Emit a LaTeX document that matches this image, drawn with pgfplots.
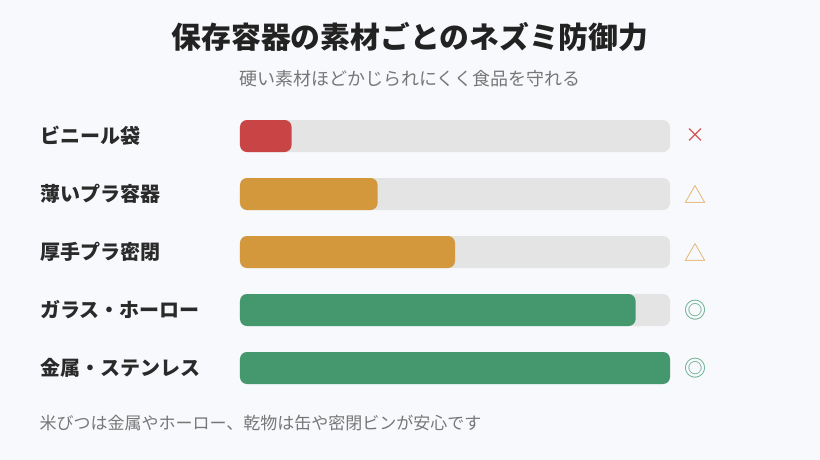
\documentclass[border=0pt]{standalone}
\usepackage{pgfplots}
\pgfplotsset{compat=1.18}
\usepackage{fontspec}
\setmainfont{Noto Sans CJK JP}
\definecolor{bg}{HTML}{F8F9FC}
\definecolor{track}{HTML}{E4E4E4}
\definecolor{cred}{HTML}{C94545}
\definecolor{corange}{HTML}{D4983C}
\definecolor{cgreen}{HTML}{45976D}
\definecolor{sred}{HTML}{D05050}
\definecolor{sorange}{HTML}{E0AA60}
\definecolor{sgreen}{HTML}{5AA880}
\definecolor{titlec}{HTML}{222222}
\definecolor{labelc}{HTML}{2A2A2A}
\definecolor{subc}{HTML}{777777}
\begin{document}
\begin{tikzpicture}
\fill[bg] (0pt,0pt) rectangle (820pt,460pt);
\node[font=\fontsize{29.8}{32}\selectfont\bfseries, text=titlec] at (410pt,423pt) {保存容器の素材ごとのネズミ防御力};
\node[font=\fontsize{18}{20}\selectfont, text=subc] at (410pt,381pt) {硬い素材ほどかじられにくく食品を守れる};
\node[font=\fontsize{17}{19}\selectfont, text=subc, anchor=west] at (36pt,37pt) {米びつは金属やホーロー、乾物は缶や密閉ビンが安心です};
\begin{axis}[
  at={(240pt,63pt)}, anchor=south west,
  scale only axis, width=430pt, height=290pt,
  xmin=0, xmax=100, ymin=-0.5, ymax=4.5,
  y dir=reverse, clip=false,
  axis line style={draw=none}, tick style={draw=none},
  xtick=\empty, ytick={0,1,2,3,4},
  yticklabels={ビニール袋,薄いプラ容器,厚手プラ密閉,ガラス・ホーロー,金属・ステンレス},
  yticklabel style={anchor=west, xshift=-199pt, font=\fontsize{20}{22}\selectfont\bfseries, text=labelc},
  xbar, bar width=32pt, bar shift=0pt,
]
\addplot[fill=track, draw=none, rounded corners=7pt] coordinates {(100,0) (100,1) (100,2) (100,3) (100,4)};
\addplot[fill=cred, draw=none, rounded corners=7pt] coordinates {(12,0)};
\addplot[fill=corange, draw=none, rounded corners=7pt] coordinates {(32,1) (50,2)};
\addplot[fill=cgreen, draw=none, rounded corners=7pt] coordinates {(92,3) (100,4)};
\node[text=sred, font=\fontsize{20}{20}\selectfont] at (axis cs:106,0) {×};
\node[text=sorange, font=\fontsize{22}{22}\selectfont] at (axis cs:106,1) {△};
\node[text=sorange, font=\fontsize{22}{22}\selectfont] at (axis cs:106,2) {△};
\node[text=sgreen, font=\fontsize{22}{22}\selectfont] at (axis cs:106,3) {◎};
\node[text=sgreen, font=\fontsize{22}{22}\selectfont] at (axis cs:106,4) {◎};
\end{axis}
\end{tikzpicture}
\end{document}
